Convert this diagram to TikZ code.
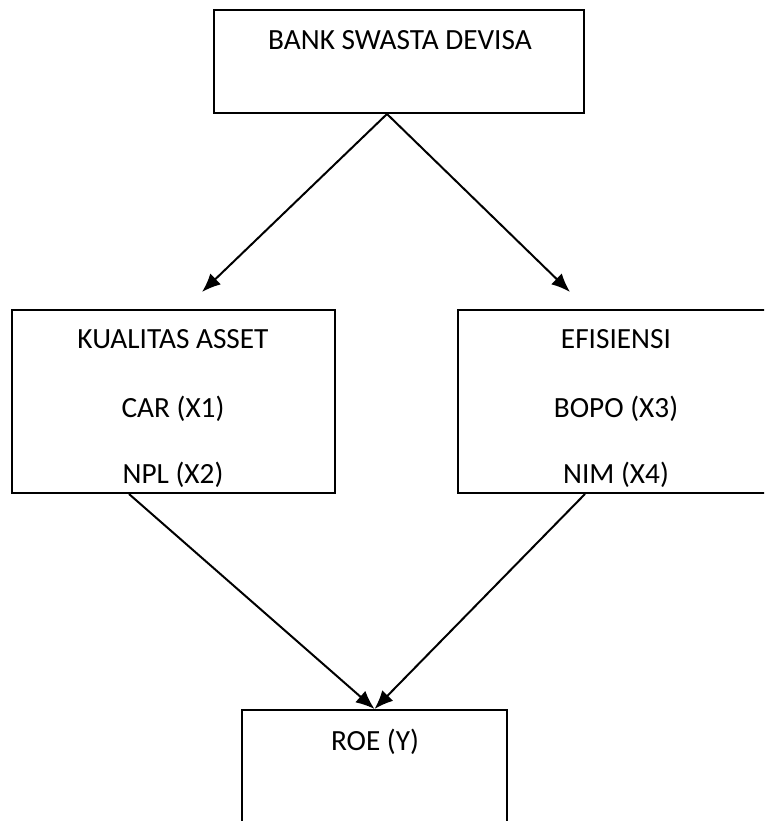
\documentclass[tikz,border=0pt]{standalone}
\usepackage{fontspec}
\setmainfont{Carlito}
\usetikzlibrary{arrows.meta}

\begin{document}
\begin{tikzpicture}[x=0.03cm,y=-0.03cm]
 \tikzset{box/.style = {shape=rectangle,draw,line width=1.7pt,inner sep=0pt}}
 \tikzset{label/.style = {anchor=base,inner sep=0pt,font=\fontsize{25}{30}\selectfont}}
 \tikzset{edge/.style = {->,> = {Latex[length=16pt,width=13pt]},line width=1.7pt}}
 \useasboundingbox (0,0) rectangle (764,821);
 \clip (0,0) rectangle (764,821);
 % boxes
 \node[box,minimum width=370*0.03cm,minimum height=103*0.03cm] (bank) at (399,61.5) {};
 \node[box,minimum width=323*0.03cm,minimum height=183*0.03cm] (kualitas) at (173.5,401.5) {};
 \node[box,minimum width=323*0.03cm,minimum height=183*0.03cm] (efisiensi) at (619.5,401.5) {};
 \node[box,minimum width=265*0.03cm,minimum height=130*0.03cm] (roe) at (374.5,775) {};

 % texts
 \node[label] (tbank) at (400,50) {BANK SWASTA DEVISA};
 \begin{scope}
  \clip (kualitas.north west) rectangle (kualitas.south east);
  \node[label] (tkual) at (173,348) {KUALITAS ASSET};
  \node[label] (tcar) at (173,417) {CAR (X1)};
  \node[label] (tnpl) at (173,483) {NPL (X2)};
 \end{scope}
 \begin{scope}
  \clip (efisiensi.north west) rectangle (efisiensi.south east);
  \node[label] (tefis) at (616,348) {EFISIENSI};
  \node[label] (tbopo) at (616,417) {BOPO (X3)};
  \node[label] (tnim) at (616,483) {NIM (X4)};
 \end{scope}
 \node[label] (troe) at (375,750) {ROE (Y)};

 % ends of the arrows
 \coordinate (bankout) at (bank.south -| 387,0);
 \coordinate (leftin) at (202,292);
 \coordinate (rightin) at (570,292);
 \coordinate (kualout) at (kualitas.south -| 129,0);
 \coordinate (efisout) at (efisiensi.south -| 585,0);

 %edges
 \draw[edge] (bankout) -- (leftin);
 \draw[edge] (bankout) -- (rightin);
 \draw[edge] (kualout) -- (roe.north);
 \draw[edge] (efisout) -- (roe.north);
\end{tikzpicture}
\end{document}
